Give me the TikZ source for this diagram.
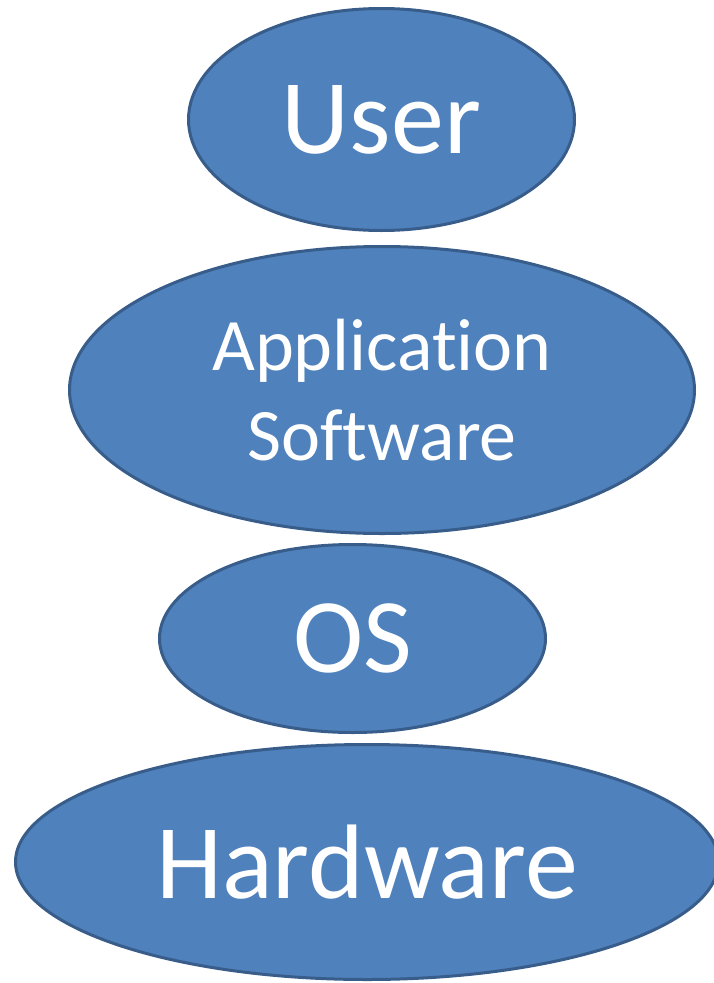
\documentclass[tikz,border=0pt]{standalone}
\usepackage{fontspec}
\setmainfont{Carlito}[Ligatures={NoCommon}]
\usetikzlibrary{shapes.geometric}
\definecolor{layerfill}{HTML}{4F81BD}
\definecolor{layerline}{HTML}{385D8A}

\begin{document}
\begin{tikzpicture}[
    x=1pt, y=-1pt,
    every node/.style={align=center, text=white},
    layer/.style={ellipse, draw=layerline, fill=layerfill, line width=3pt,
                  inner sep=0pt},
    big/.style={font=\fontsize{106}{106}\selectfont},
    small/.style={font=\fontsize{74}{90}\selectfont}
]
\useasboundingbox (0,0) rectangle (713,983);

\node[layer, big, minimum width=386pt, minimum height=222pt] (user) at (381.5,119.5) {User};
\node[layer, small, minimum width=625pt, minimum height=287pt] (app) at (382,390) {Application\\Software};
\node[layer, big, minimum width=386pt, minimum height=188pt] (os) at (352.5,638.5) {OS};
\node[layer, big, minimum width=703pt, minimum height=235pt] (hw) at (367,862) {Hardware};

\end{tikzpicture}
\end{document}
